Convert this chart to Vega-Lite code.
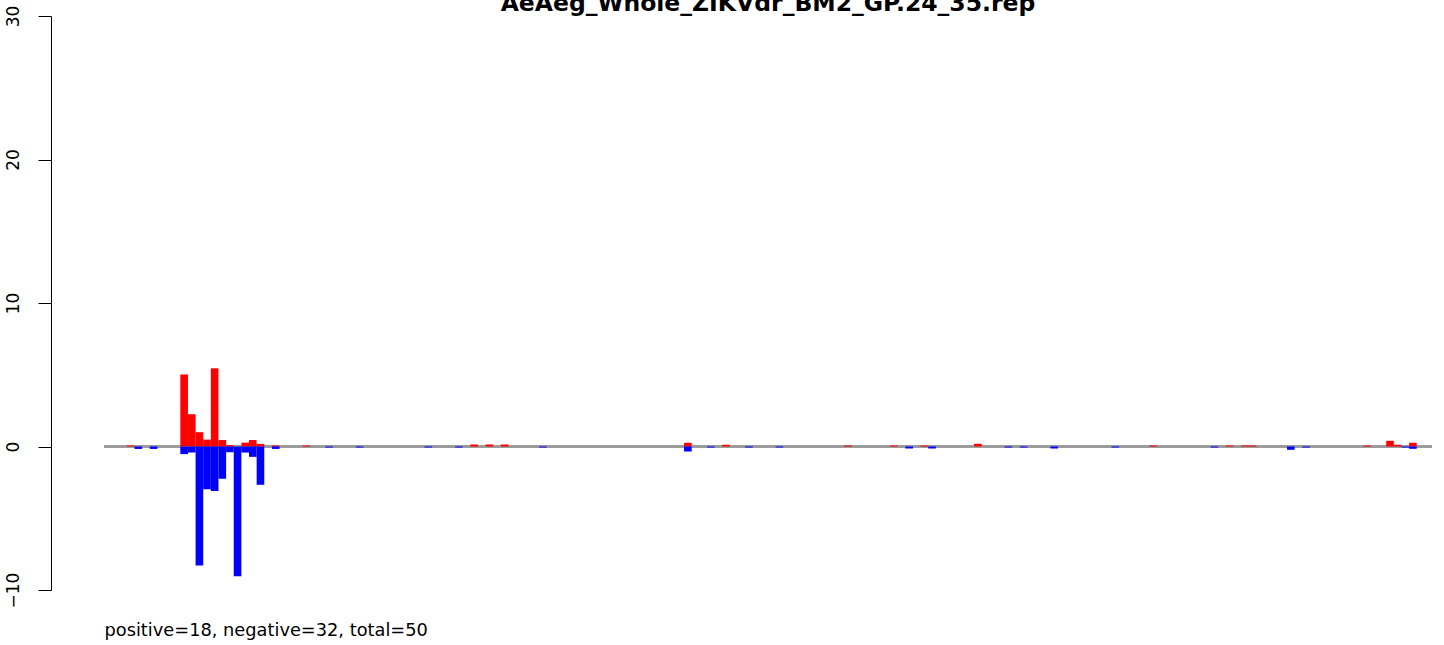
{
  "$schema": "https://vega.github.io/schema/vega-lite/v6.json",
  "autosize": {"type": "none"},
  "padding": {"left": 104, "top": 16, "right": 12, "bottom": 55},
  "width": 1328,
  "height": 574,
  "background": "white",
  "config": {
    "view": {"stroke": null},
    "font": "DejaVu Sans"
  },
  "title": {
    "text": "AeAeg_Whole_ZIKVdr_BM2_GP.24_35.rep",
    "font": "DejaVu Sans",
    "fontSize": 23.5,
    "fontWeight": "bold",
    "color": "black",
    "anchor": "middle",
    "frame": "group",
    "baseline": "alphabetic",
    "offset": -29
  },
  "data": {
    "values": [
      {"start": 3, "end": 4, "value": 0.07, "strand": "positive"},
      {"start": 10, "end": 11, "value": 5.02, "strand": "positive"},
      {"start": 11, "end": 12, "value": 2.25, "strand": "positive"},
      {"start": 12, "end": 13, "value": 1.0, "strand": "positive"},
      {"start": 13, "end": 14, "value": 0.48, "strand": "positive"},
      {"start": 14, "end": 15, "value": 5.45, "strand": "positive"},
      {"start": 15, "end": 16, "value": 0.45, "strand": "positive"},
      {"start": 16, "end": 17, "value": 0.1, "strand": "positive"},
      {"start": 18, "end": 19, "value": 0.27, "strand": "positive"},
      {"start": 19, "end": 20, "value": 0.45, "strand": "positive"},
      {"start": 20, "end": 21, "value": 0.18, "strand": "positive"},
      {"start": 22, "end": 23, "value": 0.07, "strand": "positive"},
      {"start": 26, "end": 27, "value": 0.07, "strand": "positive"},
      {"start": 48, "end": 49, "value": 0.14, "strand": "positive"},
      {"start": 50, "end": 51, "value": 0.14, "strand": "positive"},
      {"start": 52, "end": 53, "value": 0.14, "strand": "positive"},
      {"start": 76, "end": 77, "value": 0.26, "strand": "positive"},
      {"start": 81, "end": 82, "value": 0.12, "strand": "positive"},
      {"start": 97, "end": 98, "value": 0.07, "strand": "positive"},
      {"start": 103, "end": 104, "value": 0.07, "strand": "positive"},
      {"start": 107, "end": 108, "value": 0.07, "strand": "positive"},
      {"start": 114, "end": 115, "value": 0.19, "strand": "positive"},
      {"start": 137, "end": 138, "value": 0.07, "strand": "positive"},
      {"start": 147, "end": 148, "value": 0.07, "strand": "positive"},
      {"start": 149, "end": 150, "value": 0.07, "strand": "positive"},
      {"start": 150, "end": 151, "value": 0.07, "strand": "positive"},
      {"start": 165, "end": 166, "value": 0.07, "strand": "positive"},
      {"start": 168, "end": 169, "value": 0.4, "strand": "positive"},
      {"start": 169, "end": 170, "value": 0.12, "strand": "positive"},
      {"start": 171, "end": 172, "value": 0.26, "strand": "positive"},
      {"start": 4, "end": 5, "value": -0.17, "strand": "negative"},
      {"start": 6, "end": 7, "value": -0.17, "strand": "negative"},
      {"start": 10, "end": 11, "value": -0.53, "strand": "negative"},
      {"start": 11, "end": 12, "value": -0.42, "strand": "negative"},
      {"start": 12, "end": 13, "value": -8.3, "strand": "negative"},
      {"start": 13, "end": 14, "value": -2.98, "strand": "negative"},
      {"start": 14, "end": 15, "value": -3.1, "strand": "negative"},
      {"start": 15, "end": 16, "value": -2.25, "strand": "negative"},
      {"start": 16, "end": 17, "value": -0.4, "strand": "negative"},
      {"start": 17, "end": 18, "value": -9.05, "strand": "negative"},
      {"start": 18, "end": 19, "value": -0.42, "strand": "negative"},
      {"start": 19, "end": 20, "value": -0.72, "strand": "negative"},
      {"start": 20, "end": 21, "value": -2.67, "strand": "negative"},
      {"start": 22, "end": 23, "value": -0.17, "strand": "negative"},
      {"start": 29, "end": 30, "value": -0.07, "strand": "negative"},
      {"start": 33, "end": 34, "value": -0.07, "strand": "negative"},
      {"start": 42, "end": 43, "value": -0.07, "strand": "negative"},
      {"start": 46, "end": 47, "value": -0.07, "strand": "negative"},
      {"start": 57, "end": 58, "value": -0.07, "strand": "negative"},
      {"start": 76, "end": 77, "value": -0.35, "strand": "negative"},
      {"start": 79, "end": 80, "value": -0.07, "strand": "negative"},
      {"start": 84, "end": 85, "value": -0.07, "strand": "negative"},
      {"start": 88, "end": 89, "value": -0.07, "strand": "negative"},
      {"start": 105, "end": 106, "value": -0.14, "strand": "negative"},
      {"start": 108, "end": 109, "value": -0.14, "strand": "negative"},
      {"start": 118, "end": 119, "value": -0.07, "strand": "negative"},
      {"start": 120, "end": 121, "value": -0.07, "strand": "negative"},
      {"start": 124, "end": 125, "value": -0.14, "strand": "negative"},
      {"start": 132, "end": 133, "value": -0.07, "strand": "negative"},
      {"start": 145, "end": 146, "value": -0.07, "strand": "negative"},
      {"start": 155, "end": 156, "value": -0.23, "strand": "negative"},
      {"start": 157, "end": 158, "value": -0.07, "strand": "negative"},
      {"start": 170, "end": 171, "value": -0.07, "strand": "negative"},
      {"start": 171, "end": 172, "value": -0.16, "strand": "negative"}
    ]
  },
  "layer": [
    {
      "mark": {"type": "rule", "color": "#9a9a9a", "strokeWidth": 1.5},
      "encoding": {
        "y": {"datum": 0, "type": "quantitative", "scale": {"domain": [-10, 30], "nice": false, "zero": false}}
      }
    },
    {
      "mark": {"type": "rect", "stroke": null},
      "encoding": {
        "x": {
          "field": "start",
          "type": "quantitative",
          "scale": {"domain": [0, 174], "nice": false, "zero": false},
          "axis": {
            "domain": false,
            "ticks": false,
            "labels": false,
            "grid": false,
            "title": "positive=18, negative=32, total=50",
            "titleFont": "DejaVu Sans",
            "titleFontSize": 17.8,
            "titleFontWeight": "normal",
            "titleColor": "black",
            "titleAnchor": "start",
            "titleAlign": "left",
            "titleBaseline": "alphabetic",
            "titleX": 0,
            "titleY": 45
          }
        },
        "x2": {"field": "end"},
        "y": {
          "field": "value",
          "type": "quantitative",
          "scale": {"domain": [-10, 30], "nice": false, "zero": false},
          "axis": {
            "title": null,
            "grid": false,
            "values": [-10, 0, 10, 20, 30],
            "offset": 53,
            "domainColor": "black",
            "domainWidth": 1,
            "tickColor": "black",
            "tickWidth": 1,
            "tickSize": 13,
            "labelAngle": -90,
            "labelAlign": "center",
            "labelBaseline": "alphabetic",
            "labelPadding": 20,
            "labelFont": "DejaVu Sans",
            "labelFontSize": 17,
            "labelColor": "black",
            "labelOverlap": false,
            "labelFlush": false,
            "labelBound": false
          }
        },
        "y2": {"datum": 0},
        "color": {
          "field": "strand",
          "type": "nominal",
          "scale": {"domain": ["positive", "negative"], "range": ["#ff0000", "#0000ff"]},
          "legend": null
        }
      }
    }
  ]
}
